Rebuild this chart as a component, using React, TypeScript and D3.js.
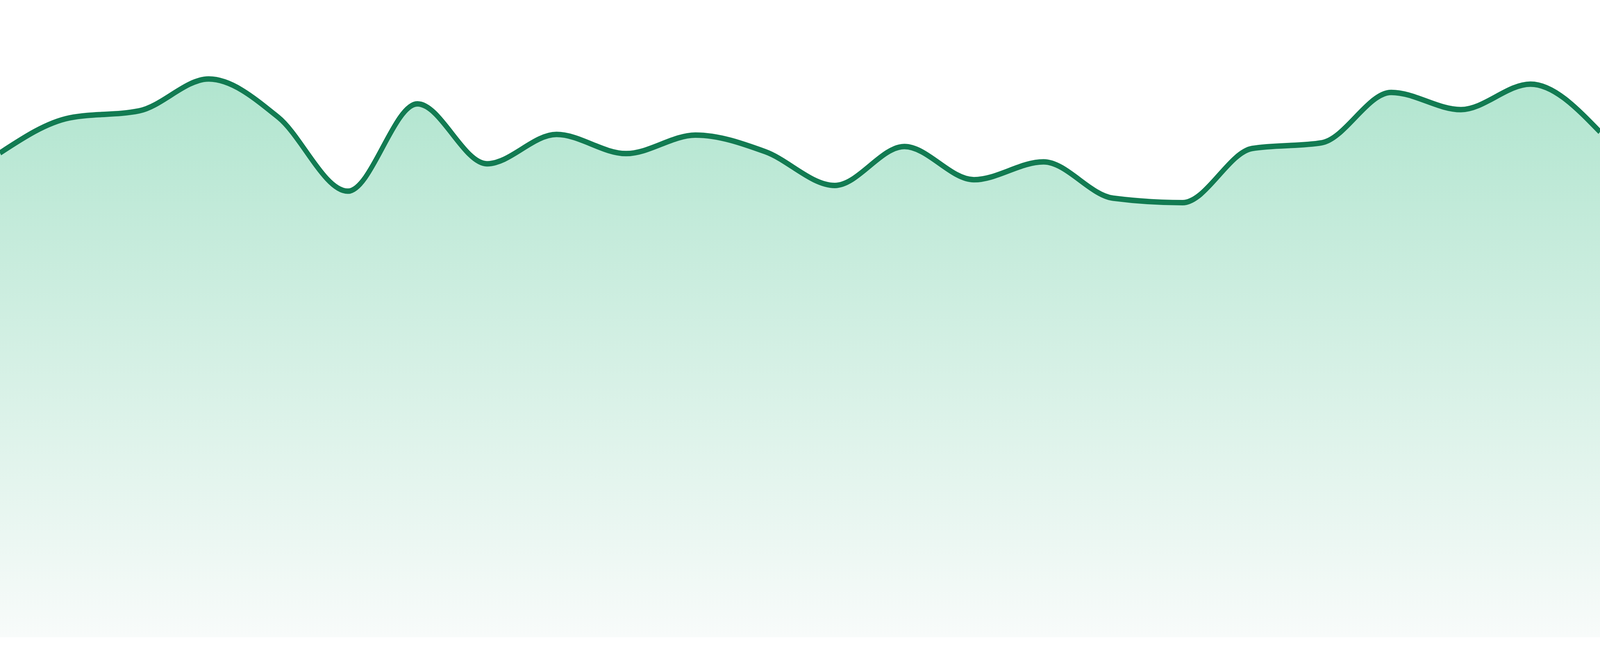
import React, { useEffect, useRef } from 'react';
import * as d3 from 'd3';

// Daily index values, one per step (24 evenly spaced samples)
const steps: number[] = d3.range(24);
const values: number[] = [
    76.0, 81.5, 82.6, 87.6, 81.6, 70.0, 83.7, 74.3,
    78.9, 75.9, 78.8, 76.2, 70.9, 77.0, 71.8, 74.6,
    68.9, 68.2, 76.7, 77.6, 85.5, 82.8, 86.8, 79.3
];
const yDomain: [number, number] = [0, 100];

const WIDTH = 4800;
const HEIGHT = 1680;

const App: React.FC = () => {
    const svgRef = useRef<SVGSVGElement>(null);

    useEffect(() => {
        if (!svgRef.current) return;
        const svg = d3.select(svgRef.current);
        svg.selectAll("*").remove();

        const margin = { top: 0, right: 0, bottom: 48, left: 0 };
        const innerWidth = WIDTH - margin.left - margin.right;
        const innerHeight = HEIGHT - margin.top - margin.bottom;

        const data = steps.map((s, i) => ({ s, v: values[i] }));

        const x = d3.scaleLinear()
            .domain([0, steps.length - 1])
            .range([0, innerWidth]);

        const y = d3.scaleLinear()
            .domain(yDomain)
            .range([innerHeight, 0]);

        // Vertical fade for the area
        const defs = svg.append("defs");
        const grad = defs.append("linearGradient")
            .attr("id", "areaFade")
            .attr("gradientUnits", "userSpaceOnUse")
            .attr("x1", 0).attr("x2", 0)
            .attr("y1", y(d3.max(values) || 0))
            .attr("y2", innerHeight);
        grad.append("stop").attr("offset", "0%").attr("stop-color", "#b1e5cf");
        grad.append("stop").attr("offset", "100%").attr("stop-color", "#f8fbfa");

        const g = svg.append("g")
            .attr("transform", `translate(${margin.left},${margin.top})`);

        const area = d3.area<{ s: number; v: number }>()
            .x(d => x(d.s))
            .y0(innerHeight)
            .y1(d => y(d.v))
            .curve(d3.curveMonotoneX);

        const line = d3.line<{ s: number; v: number }>()
            .x(d => x(d.s))
            .y(d => y(d.v))
            .curve(d3.curveMonotoneX);

        g.append("path")
            .datum(data)
            .attr("fill", "url(#areaFade)")
            .attr("d", area);

        g.append("path")
            .datum(data)
            .attr("fill", "none")
            .attr("stroke", "#127b52")
            .attr("stroke-width", 14)
            .attr("stroke-linejoin", "round")
            .attr("d", line);
    }, []);

    // Fill the viewport exactly; the drawing is laid out in a 4800x1680 box
    return (
        <svg
            ref={svgRef}
            viewBox={`0 0 ${WIDTH} ${HEIGHT}`}
            preserveAspectRatio="none"
            style={{ position: 'absolute', left: 0, top: 0, width: '100vw', height: '100vh', display: 'block', background: '#fff' }}
        />
    );
};

export default App;
